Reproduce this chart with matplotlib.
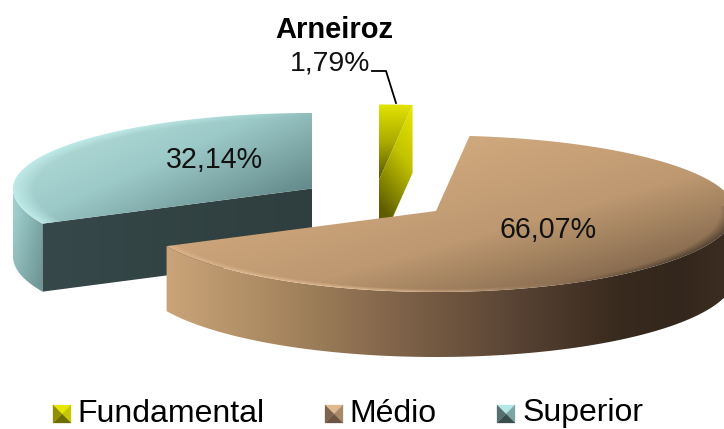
#!/usr/bin/env python3
"""
Exploded 3D-look pie of schooling level for Arneiroz, saved as out.png.
"""

import numpy as np
import matplotlib
matplotlib.use("Agg")
import matplotlib.pyplot as plt
from matplotlib.patches import Polygon

categories = ["Fundamental", "Médio", "Superior"]
shares = [1.79, 66.07, 32.14]
share_labels = ["1,79%", "66,07%", "32,14%"]
title = "Arneiroz"

W, H = 724, 429
START = 0.0
RX, RY_BACK, RY_FRONT = 299, 75.5, 81
APEX = {"Fundamental": (379, 180), "Médio": (436, 211), "Superior": (312, 188.5)}
DEPTH = {"Fundamental": 68, "Médio": 65, "Superior": 68}

plt.rcParams["font.family"] = ["Liberation Sans", "DejaVu Sans"]
fig = plt.figure(figsize=(W / 100, H / 100), dpi=100)
ax = fig.add_axes([0, 0, 1, 1])
ax.set_xlim(0, W)
ax.set_ylim(H, 0)
ax.axis("off")

X, Y = np.meshgrid(np.arange(W) + 0.5, np.arange(H) + 0.5)


def rgb(c):
    return np.array(matplotlib.colors.to_rgb(c))


def ramp(t, stops, colors):
    cols = np.array([rgb(c) for c in colors])
    return np.stack([np.interp(t, stops, cols[:, i]) for i in range(3)], axis=-1)


def rim(apex, deg):
    th = np.radians(deg)
    ry = np.where(np.cos(th) >= 0, RY_BACK, RY_FRONT)
    return apex[0] + RX * np.sin(th), apex[1] - ry * np.cos(th)


def paint(img, pts, zorder):
    patch = Polygon(pts, closed=True, fc="none", ec="none", transform=ax.transData)
    ax.add_patch(patch)
    im = ax.imshow(img, extent=(0, W, H, 0), zorder=zorder, interpolation="bilinear", aspect="auto")
    im.set_clip_path(patch)


def arc_pts(apex, a0, a1, dy=0.0):
    xs, ys = rim(apex, np.linspace(a0, a1, 240))
    return np.column_stack([xs, ys + dy])


def elliptic_r(apex):
    dx = (X - apex[0]) / RX
    dy = Y - apex[1]
    return np.hypot(dx, np.where(dy < 0, dy / RY_BACK, dy / RY_FRONT))


# slice angles come from the shares
edges = START + np.concatenate([[0], np.cumsum(shares)]) * 3.6
ang = {c: (edges[i], edges[i + 1]) for i, c in enumerate(categories)}

# Superior
ap = APEX["Superior"]
a0, a1 = ang["Superior"]
d = DEPTH["Superior"]
r = elliptic_r(ap)
t = np.clip(((X - 60) * 0.45 + (Y - 120) * 1.0) / 190, 0, 1)
top = ramp(t, [0, 0.45, 1], ["#b4dcda", "#9ccac8", "#5f8486"])
edge_glow = np.clip((r - 0.93) / 0.07, 0, 1)[..., None] * np.clip((ap[0] - X) / 200, 0, 1)[..., None]
top = top * (1 - edge_glow) + rgb("#bfeae8") * edge_glow
paint(top, np.vstack([[ap], arc_pts(ap, a0, a1)]), 3)
side = ramp(X, [14, 44], ["#9fcfce", "#7aa5a5"])
side = side * (1 - 0.12 * np.clip((Y - 215) / 70, 0, 1)[..., None])
front = arc_pts(ap, a0, 270)
paint(side, np.vstack([front, arc_pts(ap, a0, 270, d)[::-1]]), 2)
cut = ramp(X, [44, 312], ["#364849", "#2f3e3f"])
p = front[0]
paint(cut, [ap, p, (p[0], p[1] + d), (ap[0], ap[1] + d)], 2)

# Fundamental
ap = APEX["Fundamental"]
a0, a1 = ang["Fundamental"]
d = DEPTH["Fundamental"]
t = np.clip((Y - 105) / 75, 0, 1)
top = ramp(t, [0, 0.5, 1], ["#e2e200", "#aaaa00", "#555500"])
paint(top, np.vstack([[ap], arc_pts(ap, a0, a1)]), 3)
p = rim(ap, a1)
t = np.clip(((412 - X) * 1.2 + (Y - 105)) / 140, 0, 1)
cut = ramp(t, [0, 0.45, 1], ["#e8e800", "#c2c200", "#5e5e00"])
paint(cut, [ap, p, (p[0], p[1] + d), (ap[0], ap[1] + d)], 4)

# Medio
ap = APEX["Médio"]
a0, a1 = ang["Médio"]
d = DEPTH["Médio"]
r = elliptic_r(ap)
t = np.clip(((X - 450) * 0.45 + (Y - 150) * 1.6) / 300, 0, 1)
top = ramp(t, [0, 0.5, 1], ["#cfa77d", "#bd9870", "#7d6349"])
lit = np.clip((r - 0.96) / 0.04, 0, 1)[..., None] * (Y > ap[1])[..., None] * np.clip((560 - X) / 200, 0, 1)[..., None]
top = top * (1 - lit) + rgb("#dcb58c") * lit
# only the front right of the rim falls into shadow
dark = np.clip((r - 0.95) / 0.05, 0, 1)[..., None] * np.clip((X - 560) / 120, 0, 1)[..., None] * (Y > ap[1] - 5)[..., None]
top = top * (1 - 0.4 * dark)
paint(top, np.vstack([[ap], arc_pts(ap, a0, a1)]), 7)
side = ramp(X, [167, 280, 400, 520, 620, 680, 724],
            ["#cba479", "#a8875f", "#7f6349", "#574232", "#382a1e", "#33261c", "#3b2d21"])
front = arc_pts(ap, 90, a1)
paint(side, np.vstack([front, arc_pts(ap, 90, a1, d)[::-1]]), 6)

# text
ax.text(214, 160, share_labels[2], fontsize=20.6, ha="center", va="center", color="#111111", zorder=10)
ax.text(548, 230, share_labels[1], fontsize=20.6, ha="center", va="center", color="#111111", zorder=10)
ax.text(334, 30, title, fontsize=21, fontweight="bold", ha="center", va="center", color="black", zorder=10)
ax.text(330, 63, share_labels[0], fontsize=20.4, ha="center", va="center", color="#111111", zorder=10)
ax.plot([372, 386, 396], [71, 71, 103], color="black", lw=1.3, zorder=10, solid_joinstyle="miter")

# legend with little bevelled squares
swatches = [
    ("#e6e600", "#6e6e00", "#c8c800", "#8f8f00"),
    ("#e0b98e", "#6d5541", "#a88a68", "#7e6550"),
    ("#b4e8e6", "#3a4d4e", "#7da5a4", "#56706f"),
]
marker_x = [53, 325, 497]
text_x = [77, 349, 523]
S = 18
y0 = 405
for i, name in enumerate(categories):
    x0 = marker_x[i]
    c = (x0 + S / 2, y0 + S / 2)
    tl, tr, br, bl = (x0, y0), (x0 + S, y0), (x0 + S, y0 + S), (x0, y0 + S)
    top_c, bot_c, right_c, left_c = swatches[i]
    for tri, col in [((tl, tr, c), top_c), ((tr, br, c), right_c), ((br, bl, c), bot_c), ((bl, tl, c), left_c)]:
        ax.add_patch(Polygon(tri, closed=True, fc=col, ec=col, lw=0.2, zorder=10))
    ax.text(text_x[i], 413.5, name, fontsize=23, ha="left", va="center", color="black", zorder=10)

ax.set_xlim(0, W)
ax.set_ylim(H, 0)
fig.savefig("out.png", dpi=100, facecolor="white")
print("Saved out.png")
